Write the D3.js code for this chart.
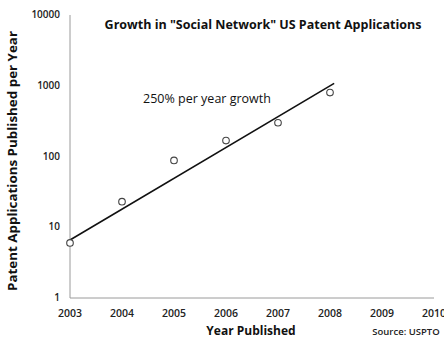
<!DOCTYPE html>
<html>
<head>
<meta charset="utf-8">
<script src="https://cdn.jsdelivr.net/npm/d3@7"></script>
<style>
  body { margin: 0; background: #fff; }
  svg { display: block; font-family: "Open Sans", "DejaVu Sans", sans-serif; }
  .tick-label { fill: #222; font-weight: 600; }
  .axis-title { fill: #111; font-weight: 700; }
</style>
</head>
<body>
<div id="chart"></div>
<script>
// Patent applications published per year
const years = [2003, 2004, 2005, 2006, 2007, 2008];
const applications = [6, 23, 88, 168, 300, 800];

// Exponential trend line end points
const trendYears = [2003, 2008.08];
const trendValues = [6.6, 1080];

const xTicks = [2003, 2004, 2005, 2006, 2007, 2008, 2009, 2010];
const yTicks = [1, 10, 100, 1000, 10000];

const width = 444, height = 341;
const margin = { top: 15, right: 10, bottom: 43, left: 70 };

const svg = d3.select("#chart").append("svg")
  .attr("width", width)
  .attr("height", height);

// Scales
const x = d3.scaleLinear().domain([2003, 2010]).range([margin.left, 434]);
const y = d3.scaleLog().domain([1, 10000]).range([height - margin.bottom, margin.top]);

// Axis lines
svg.append("line")
  .attr("x1", x(2003)).attr("x2", x(2003))
  .attr("y1", y(10000)).attr("y2", y(1))
  .attr("stroke", "#9a9a9a").attr("stroke-width", 1);
svg.append("line")
  .attr("x1", x(2003)).attr("x2", x(2010))
  .attr("y1", y(1)).attr("y2", y(1))
  .attr("stroke", "#9a9a9a").attr("stroke-width", 1);

// Y tick labels
svg.append("g").selectAll("text")
  .data(yTicks)
  .join("text")
  .attr("class", "tick-label")
  .attr("font-size", 10)
  .attr("x", 60)
  .attr("y", (d) => y(d))
  .attr("dy", "0.32em")
  .attr("text-anchor", "end")
  .text((d) => d);

// X tick labels
svg.append("g").selectAll("text")
  .data(xTicks)
  .join("text")
  .attr("class", "tick-label")
  .attr("font-size", 10.5)
  .attr("x", (d) => x(d))
  .attr("y", 317)
  .attr("text-anchor", "middle")
  .text((d) => d);

// Trend line
const line = d3.line()
  .x((d, i) => x(trendYears[i]))
  .y((d) => y(d));

svg.append("path")
  .datum(trendValues)
  .attr("d", line)
  .attr("fill", "none")
  .attr("stroke", "#111")
  .attr("stroke-width", 1.6);

// Data points (open circles)
svg.append("g").selectAll("circle")
  .data(applications)
  .join("circle")
  .attr("cx", (d, i) => x(years[i]))
  .attr("cy", (d) => y(d))
  .attr("r", 3.3)
  .attr("fill", "#fff")
  .attr("stroke", "#444")
  .attr("stroke-width", 1.1);

// Title
svg.append("text")
  .attr("class", "axis-title")
  .attr("x", 263)
  .attr("y", 29)
  .attr("text-anchor", "middle")
  .attr("font-size", 12.5)
  .text("Growth in \"Social Network\" US Patent Applications");

// Annotation
svg.append("text")
  .attr("x", 207)
  .attr("y", 103)
  .attr("text-anchor", "middle")
  .attr("font-size", 12.5)
  .attr("fill", "#111")
  .text("250% per year growth");

// Axis titles
svg.append("text")
  .attr("class", "axis-title")
  .attr("transform", `translate(17, 161) rotate(-90)`)
  .attr("text-anchor", "middle")
  .attr("font-size", 12)
  .attr("textLength", 260)
  .attr("lengthAdjust", "spacingAndGlyphs")
  .text("Patent Applications Published per Year");

svg.append("text")
  .attr("class", "axis-title")
  .attr("x", 251)
  .attr("y", 335)
  .attr("text-anchor", "middle")
  .attr("font-size", 12)
  .text("Year Published");

svg.append("text")
  .attr("x", 406)
  .attr("y", 335)
  .attr("text-anchor", "middle")
  .attr("font-size", 9.5)
  .attr("font-weight", 600)
  .attr("fill", "#222")
  .text("Source: USPTO");
</script>
</body>
</html>
